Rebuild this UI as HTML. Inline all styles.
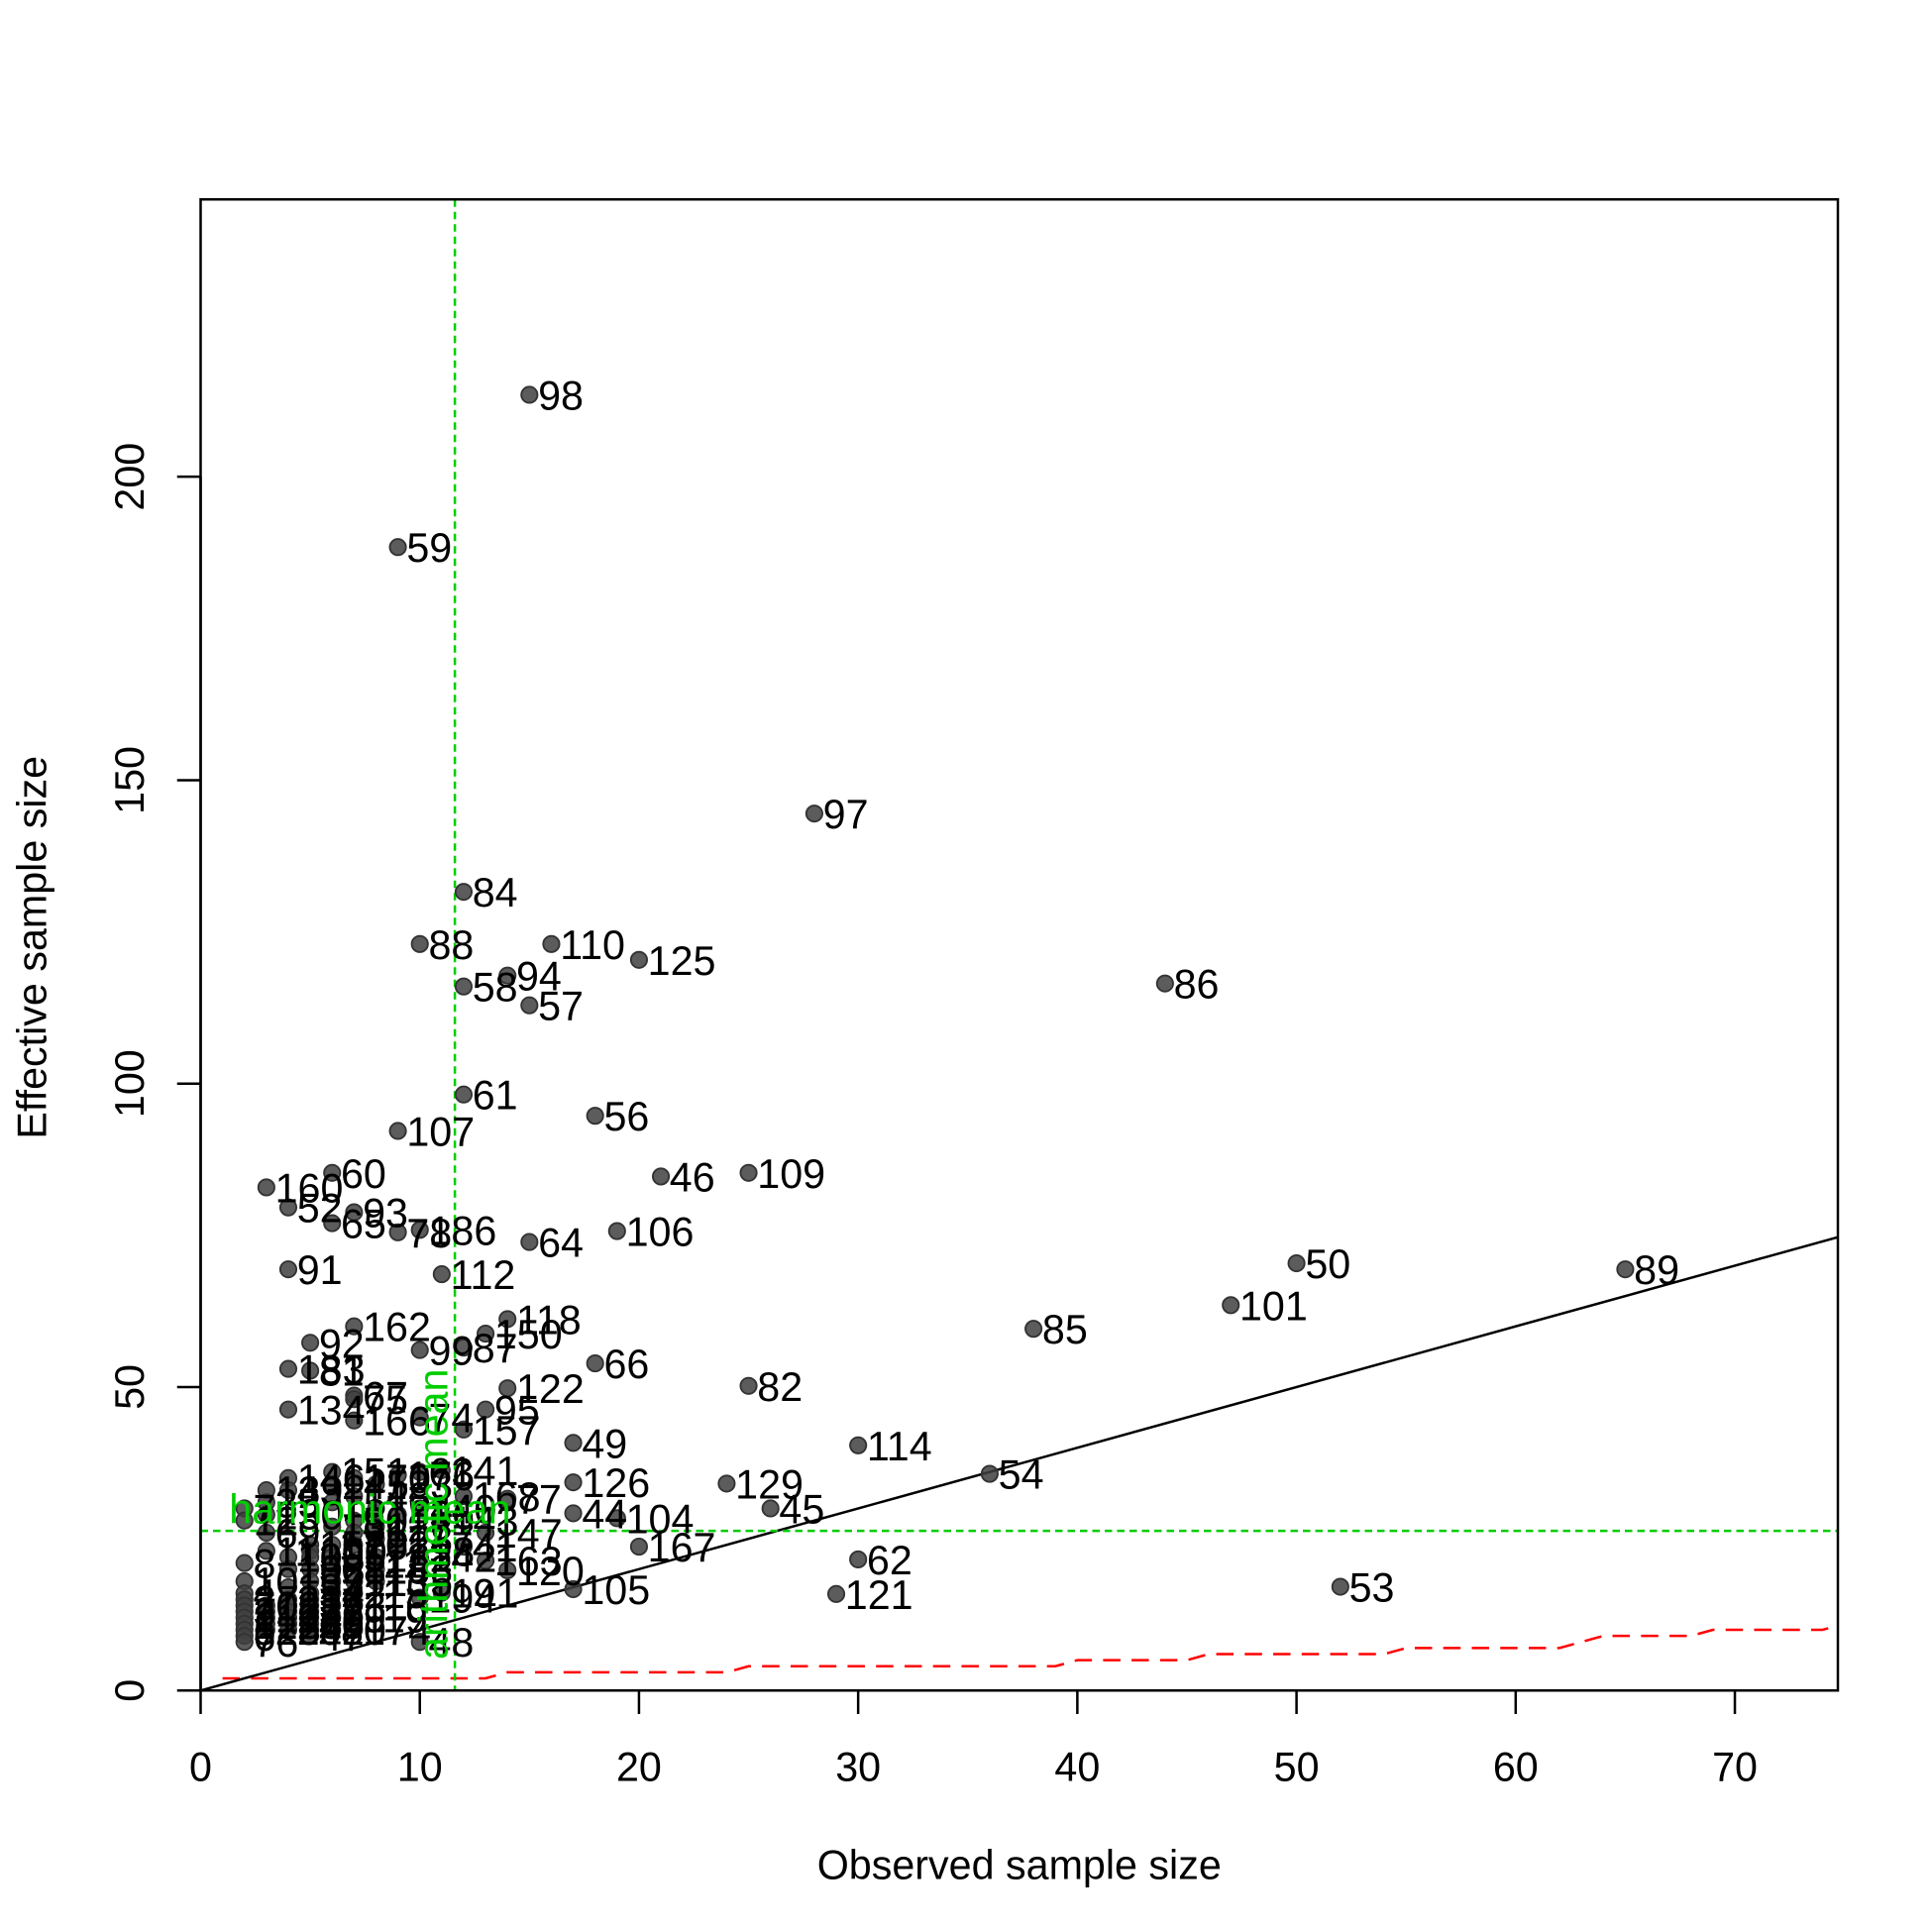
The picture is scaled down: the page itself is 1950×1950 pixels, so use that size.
<!DOCTYPE html>
<html><head><meta charset="utf-8">
<style>
html,body{margin:0;padding:0;background:#fff}
svg{display:block}
text{font-family:"Liberation Sans",Arial,sans-serif}
</style></head>
<body>
<svg id="chart" xmlns="http://www.w3.org/2000/svg" width="1950" height="1950" viewBox="0 0 1560 1560">
<defs><clipPath id="pc"><rect x="162" y="161" width="1322" height="1204"/></clipPath></defs>
<rect x="0" y="0" width="1560" height="1560" fill="#fff"/>
<g id="plot"></g>
</svg>
<script>
// ---- data ----
const obsX = [15,9,28,12,10,16,20,14,12,15,44,12,9,18,21,25,3,6,4,7,6,9,10,15,19,4,11,50,65,47,38,7,14,13,5,10,12,18,4,5,14,25,4,7,7,7,10,13,12,17,30,17,24,36,14,26,17,19,13,20,12,13,30,14,29,17,52,10,11,10,7,9,10,11,
 2,2,2,2,2,2,2,2,2,2,2,2,2, 3,3,3,3,3,3,3,3,3,3, 4,4,4,4,4,4,4,4,4,4,4, 5,5,5,5,5,5,5,5,5,5,5,5,5, 6,6,6,6,6,6,6,6,6,6,6,6, 7,7,7,7,7,7,7,7,7,7, 8,8,8,8,8,8,8, 9,9,9, 10,10, 11, 12];
const essY = [213.5,188.4,144.5,131.6,123,123,120.4,117.8,116,112.9,116.5,98.2,92.2,94.7,84.7,85.3,82.9,85.3,79.6,78.8,77,75.5,75.9,73.9,75.7,69.4,68.6,70.4,69.4,63.5,59.6,60,61.2,58.8,57.3,56.1,56.5,53.9,53,52.7,49.8,50.2,46.3,48.6,48,44.5,45,46.3,43,40.8,40.4,34.3,34.1,35.7,31.6,30,29.2,28.4,26,23.7,23.7,21.4,21.6,19.8,15.9,16.7,17.1,8,16.1,15.3,10,35.5,36,36.3,
 30,28,21,18,16,15,14,13,12,11,10,9,8, 33,31,29,26,23,14,13,12,11,10, 35,33,22,20,17,15,14,13,12,11,10, 24,23,22,20,18,16,15,14,13,12,11,10,9, 36,34,31,27,24,22,20,18,16,14,12,10, 35,32,28,26,24,21,18,16,14,12, 34,30,27,25,22,20,18, 29,25,23, 30,22, 28, 32];
const pointLabels = ["98","59","97","84","88","110","125","94","58","57","86","61","107","56","46","109","160","60","52","93","65","78","186","64","106","91","112","50","89","101","85","162","118","150","92","99","87","66","183","81","122","82","134","67","75","166","74","95","157","49","114","126","129","54","77","45","44","104","147","167","41","163","62","120","121","105","53","48","191","194","174","176","63","141",
 "7","12","8","10","4","27","70","3","2","1","5","6","76", "139","35","130","69","11","13","16","17","18","25", "146","43","103","108","19","21","22","23","24","28","29", "117","100","30","32","33","34","36","37","38","39","40","42","47", "151","145","15","131","51","55","68","71","72","73","79","80", "170","148","90","96","102","111","113","115","116","119", "123","124","127","128","132","133","135", "136","137","138", "140","142", "143", "168"];
const refX = [1,13,14,24,25,39,40,45,46,54,55,62,64,68,69,74,75];
const refY = [2,2,3,3,4,4,5,5,6,6,7,7,9,9,10,10,11];
const harmonicMean = 26.3;
const arithmeticMean = 11.6;
const xTicks = [0,10,20,30,40,50,60,70];
const yTicks = [0,50,100,150,200];

// ---- axes ----
const L=162,R=1484,T=161,B=1365;
const xMax=74.7, yMax=245.7;
const sx = v => L + v/xMax*(R-L);
const sy = v => B - v/yMax*(B-T);
const NS="http://www.w3.org/2000/svg";
const g=document.getElementById('plot');
function mk(tag,attrs,parent){const e=document.createElementNS(NS,tag);for(const k in attrs)e.setAttribute(k,attrs[k]);(parent||g).appendChild(e);return e;}
const FS=33;

let d=refX.map((x,i)=>(i?'L':'M')+sx(x)+' '+sy(refY[i])).join(' ');
const red=mk('path',{d:d,fill:'none',stroke:'#ff0000','stroke-width':2,'stroke-dasharray':'14,9','clip-path':'url(#pc)'});



const idl=mk('line',{x1:sx(0),y1:sy(0),x2:sx(xMax),y2:sy(xMax),stroke:'#000','stroke-width':2,'clip-path':'url(#pc)'});



const hl=mk('line',{x1:L,x2:R,y1:sy(harmonicMean),y2:sy(harmonicMean),stroke:'#00cd00','stroke-width':2,'stroke-dasharray':'6,4'});


const vl=mk('line',{x1:sx(arithmeticMean),x2:sx(arithmeticMean),y1:T,y2:B,stroke:'#00cd00','stroke-width':2,'stroke-dasharray':'6,4'});



for(let i=0;i<obsX.length;i++){
  const c=mk('circle',{cx:sx(obsX[i]),cy:sy(essY[i]),r:6.5,fill:'#404040','fill-opacity':0.85,stroke:'#333','stroke-width':1.5});
  
  
}
for(let i=0;i<obsX.length;i++){
  const t=mk('text',{x:sx(obsX[i])+7,y:sy(essY[i])+12,'font-size':FS,fill:'#000'});
  t.textContent=pointLabels[i];
  
  
}

const ht=mk('text',{x:185,y:sy(harmonicMean)-6,'font-size':FS,fill:'#00cd00'});
ht.textContent='harmonic mean';


const at=mk('text',{x:0,y:0,'font-size':FS,fill:'#00cd00',transform:'translate('+(sx(arithmeticMean)-6)+',1340) rotate(-90)'});
at.textContent='arithmetic mean';



const fr=mk('rect',{x:L,y:T,width:R-L,height:B-T,fill:'none',stroke:'#000','stroke-width':2});



const xa=mk('line',{x1:sx(0),x2:sx(70),y1:B,y2:B,stroke:'#000','stroke-width':2});


xTicks.forEach(v=>{
  const tk=mk('line',{x1:sx(v),x2:sx(v),y1:B,y2:B+19,stroke:'#000','stroke-width':2});
  
  
  const tl=mk('text',{x:sx(v),y:1438,'font-size':FS,'text-anchor':'middle'});
  tl.textContent=v;
  
  
});
const ya=mk('line',{x1:L,x2:L,y1:sy(0),y2:sy(200),stroke:'#000','stroke-width':2});


yTicks.forEach(v=>{
  const tk=mk('line',{x1:L-19,x2:L,y1:sy(v),y2:sy(v),stroke:'#000','stroke-width':2});
  
  
  const tl=mk('text',{x:0,y:0,'font-size':FS,'text-anchor':'middle',transform:'translate(116,'+sy(v)+') rotate(-90)'});
  tl.textContent=v;
  
  
});
const xt=mk('text',{x:823,y:1517,'font-size':FS,'text-anchor':'middle'});
xt.textContent='Observed sample size';


const yt=mk('text',{x:0,y:0,'font-size':FS,'text-anchor':'middle',transform:'translate(37,765) rotate(-90)'});
yt.textContent='Effective sample size';


</script>
</body></html>
